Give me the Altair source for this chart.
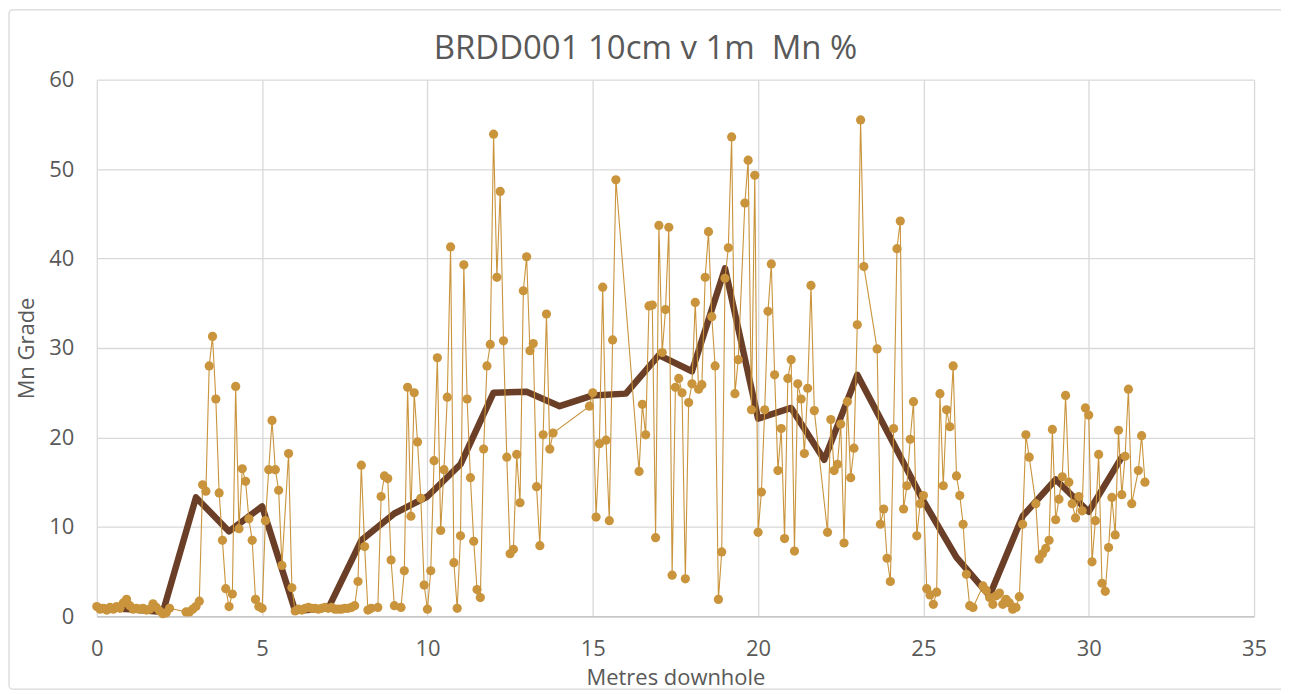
import altair as alt
import pandas as pd

# 10 cm samples: depth (m) and Mn grade (%)
depth_10cm = [
    0.0, 0.1, 0.2, 0.3, 0.4, 0.5, 0.6, 0.7, 0.8, 0.9, 1.0, 1.1, 1.2, 1.3, 1.4, 1.5, 1.6, 1.7, 1.8, 1.9,
    2.0, 2.1, 2.2, 2.7, 2.8, 2.9, 3.0, 3.1, 3.2, 3.3, 3.4, 3.5, 3.6, 3.7, 3.8, 3.9, 4.0, 4.1, 4.2, 4.3,
    4.4, 4.5, 4.6, 4.7, 4.8, 4.9, 5.0, 5.1, 5.2, 5.3, 5.4, 5.5, 5.6, 5.8, 5.9, 6.0, 6.1, 6.2, 6.3, 6.4,
    6.5, 6.6, 6.7, 6.8, 6.9, 7.0, 7.1, 7.2, 7.3, 7.4, 7.5, 7.6, 7.7, 7.8, 7.9, 8.0, 8.1, 8.2, 8.3, 8.5,
    8.6, 8.7, 8.8, 8.9, 9.0, 9.2, 9.3, 9.4, 9.5, 9.6, 9.7, 9.8, 9.9, 10.0, 10.1, 10.2, 10.3, 10.4, 10.5, 10.6,
    10.7, 10.8, 10.9, 11.0, 11.1, 11.2, 11.3, 11.4, 11.5, 11.6, 11.7, 11.8, 11.9, 12.0, 12.1, 12.2, 12.3, 12.4, 12.5, 12.6,
    12.7, 12.8, 12.9, 13.0, 13.1, 13.2, 13.3, 13.4, 13.5, 13.6, 13.7, 13.8, 14.9, 15.0, 15.1, 15.2, 15.3, 15.4, 15.5, 15.6,
    15.7, 16.4, 16.5, 16.6, 16.7, 16.8, 16.9, 17.0, 17.1, 17.2, 17.3, 17.4, 17.5, 17.6, 17.7, 17.8, 17.9, 18.0, 18.1, 18.2,
    18.3, 18.4, 18.5, 18.6, 18.7, 18.8, 18.9, 19.0, 19.1, 19.2, 19.3, 19.4, 19.6, 19.7, 19.8, 19.9, 20.0, 20.1, 20.2, 20.3,
    20.4, 20.5, 20.6, 20.7, 20.8, 20.9, 21.0, 21.1, 21.2, 21.3, 21.4, 21.5, 21.6, 21.7, 22.1, 22.2, 22.3, 22.4, 22.5, 22.6,
    22.7, 22.8, 22.9, 23.0, 23.1, 23.2, 23.6, 23.7, 23.8, 23.9, 24.0, 24.1, 24.2, 24.3, 24.4, 24.5, 24.6, 24.7, 24.8, 24.9,
    25.0, 25.1, 25.2, 25.3, 25.4, 25.5, 25.6, 25.7, 25.8, 25.9, 26.0, 26.1, 26.2, 26.3, 26.4, 26.5, 26.8, 26.9, 27.0, 27.1,
    27.2, 27.3, 27.4, 27.5, 27.6, 27.7, 27.8, 27.9, 28.0, 28.1, 28.2, 28.4, 28.5, 28.6, 28.7, 28.8, 28.9, 29.0, 29.1, 29.2,
    29.3, 29.4, 29.5, 29.6, 29.7, 29.8, 29.9, 30.0, 30.1, 30.2, 30.3, 30.4, 30.5, 30.6, 30.7, 30.8, 30.9, 31.0, 31.1, 31.2,
    31.3, 31.5, 31.6, 31.7,
]
grade_10cm = [
    1.1, 0.8, 0.9, 0.7, 1.0, 0.8, 1.1, 0.9, 1.5, 1.9, 1.2, 0.8, 0.9, 0.8, 0.9, 0.7, 0.8, 1.4, 1.0, 0.6,
    0.3, 0.4, 0.9, 0.5, 0.5, 0.8, 1.1, 1.7, 14.7, 14.0, 28.0, 31.3, 24.3, 13.8, 8.5, 3.1, 1.1, 2.5, 25.7, 9.8,
    16.5, 15.1, 10.9, 8.5, 1.9, 1.1, 0.9, 10.7, 16.4, 21.9, 16.4, 14.1, 5.7, 18.2, 3.2, 0.6, 0.8, 0.7, 0.9, 1.0,
    0.9, 0.9, 0.8, 0.9, 1.0, 0.9, 1.0, 0.8, 0.8, 0.8, 0.9, 0.9, 1.0, 1.2, 3.9, 16.9, 7.8, 0.7, 0.9, 1.0,
    13.4, 15.7, 15.4, 6.3, 1.2, 1.0, 5.1, 25.6, 11.2, 25.0, 19.5, 13.2, 3.5, 0.8, 5.1, 17.4, 28.9, 9.6, 16.4, 24.5,
    41.3, 6.0, 0.9, 9.0, 39.3, 24.3, 15.5, 8.4, 3.0, 2.1, 18.7, 28.0, 30.4, 53.9, 37.9, 47.5, 30.8, 17.8, 7.0, 7.5,
    18.1, 12.7, 36.4, 40.2, 29.7, 30.5, 14.5, 7.9, 20.3, 33.8, 18.7, 20.5, 23.5, 25.0, 11.1, 19.3, 36.8, 19.7, 10.7, 30.9,
    48.8, 16.2, 23.7, 20.3, 34.7, 34.8, 8.8, 43.7, 29.5, 34.3, 43.5, 4.6, 25.6, 26.6, 25.0, 4.2, 23.9, 26.0, 35.1, 25.4,
    25.9, 37.9, 43.0, 33.5, 28.0, 1.9, 7.2, 37.8, 41.2, 53.6, 24.9, 28.7, 46.2, 51.0, 23.1, 49.3, 9.4, 13.9, 23.1, 34.1,
    39.4, 27.0, 16.3, 21.0, 8.7, 26.6, 28.7, 7.3, 26.0, 24.3, 18.2, 25.5, 37.0, 23.0, 9.4, 22.0, 16.3, 17.0, 21.5, 8.2,
    24.0, 15.5, 18.8, 32.6, 55.5, 39.1, 29.9, 10.3, 12.0, 6.5, 3.9, 21.0, 41.1, 44.2, 12.0, 14.6, 19.8, 24.0, 9.0, 12.6,
    13.5, 3.1, 2.4, 1.35, 2.7, 24.9, 14.6, 23.1, 21.2, 28.0, 15.7, 13.5, 10.3, 4.7, 1.2, 1.0, 3.4, 2.9, 2.1, 1.35,
    2.3, 2.6, 1.35, 1.9, 1.5, 0.8, 1.0, 2.2, 10.3, 20.3, 17.8, 12.6, 6.4, 7.0, 7.6, 8.5, 20.9, 10.8, 13.1, 15.6,
    24.7, 15.0, 12.6, 11.0, 13.4, 11.8, 23.3, 22.5, 6.1, 10.7, 18.1, 3.7, 2.8, 7.7, 13.3, 9.1, 20.8, 13.6, 17.9, 25.4,
    12.6, 16.3, 20.2, 15.0,
]

# 1 m composites
depth_1m = list(range(0, 32))
grade_1m = [
    1.0, 0.8, 0.5, 13.3, 9.5, 12.3, 0.6, 0.9, 8.5, 11.5, 13.4, 17.0, 25.0, 25.1, 23.5, 24.7,
    24.9, 29.2, 27.4, 38.9, 22.1, 23.3, 17.5, 27.0, 20.0, 12.9, 6.6, 2.3, 11.2, 15.3, 11.7, 17.8,
]

x_ticks = [0, 5, 10, 15, 20, 25, 30, 35]
y_ticks = [0, 10, 20, 30, 40, 50, 60]

df10 = pd.DataFrame({"depth": depth_10cm, "grade": grade_10cm})
df1 = pd.DataFrame({"depth": depth_1m, "grade": grade_1m})

FONT = "Open Sans"
GREY = "#595959"
GOLD = "#C9943C"
BROWN = "#6B3F27"

W, H = 1160, 538

x_enc = alt.X(
    "depth:Q",
    scale=alt.Scale(domain=[0, 35], nice=False, zero=False),
    axis=alt.Axis(
        values=x_ticks,
        title="Metres downhole",
        grid=True,
        ticks=False,
        tickSize=0,
        labelFlush=False,
        labelPadding=22,
        titlePadding=8,
        domainColor="#BFBFBF",
        domainWidth=1.3,
    ),
)
y_enc = alt.Y(
    "grade:Q",
    scale=alt.Scale(domain=[0, 60], nice=False),
    axis=alt.Axis(
        values=y_ticks,
        title="Mn Grade",
        grid=True,
        ticks=False,
        tickSize=0,
        domain=False,
        labelFlush=False,
        labelPadding=23,
        titlePadding=10,
    ),
)

frame = alt.Chart(pd.DataFrame({"k": [0]})).mark_rect(
    fill=None, stroke="#D9D9D9", strokeWidth=1.3, cornerRadius=4, clip=False
).encode(
    x=alt.value(-88),
    x2=alt.value(W + 115),
    y=alt.value(-70),
    y2=alt.value(H + 73),
)

thick = alt.Chart(df1).mark_line(
    color=BROWN, strokeWidth=6.5, strokeJoin="round", strokeCap="round"
).encode(x=x_enc, y=y_enc)

thin = alt.Chart(df10).mark_line(
    color=GOLD, strokeWidth=1.1,
    point=alt.OverlayMarkDef(filled=True, color=GOLD, size=85, opacity=1),
).encode(x=x_enc, y=y_enc)

chart = (
    alt.layer(frame, thick, thin)
    .properties(
        width=W,
        height=H,
        autosize=alt.AutoSizeParams(type="none"),
        padding={"left": 89, "top": 71, "right": 27, "bottom": 75},
        title=alt.TitleParams(
            "BRDD001 10cm v 1m\u00a0 Mn %",
            anchor="middle",
            dx=-30,
            offset=-82.5,
            baseline="alphabetic",
            font=FONT,
            fontSize=33,
            fontWeight="normal",
            color=GREY,
        ),
    )
    .configure_view(stroke=None)
    .configure_axis(
        labelFont=FONT,
        titleFont=FONT,
        labelFontSize=22,
        titleFontSize=22,
        labelColor=GREY,
        titleColor=GREY,
        titleFontWeight="normal",
        gridColor="#D9D9D9",
        gridWidth=1.3,
    )
)

chart.save("out.html", embed_options={"renderer": "svg", "actions": False})
